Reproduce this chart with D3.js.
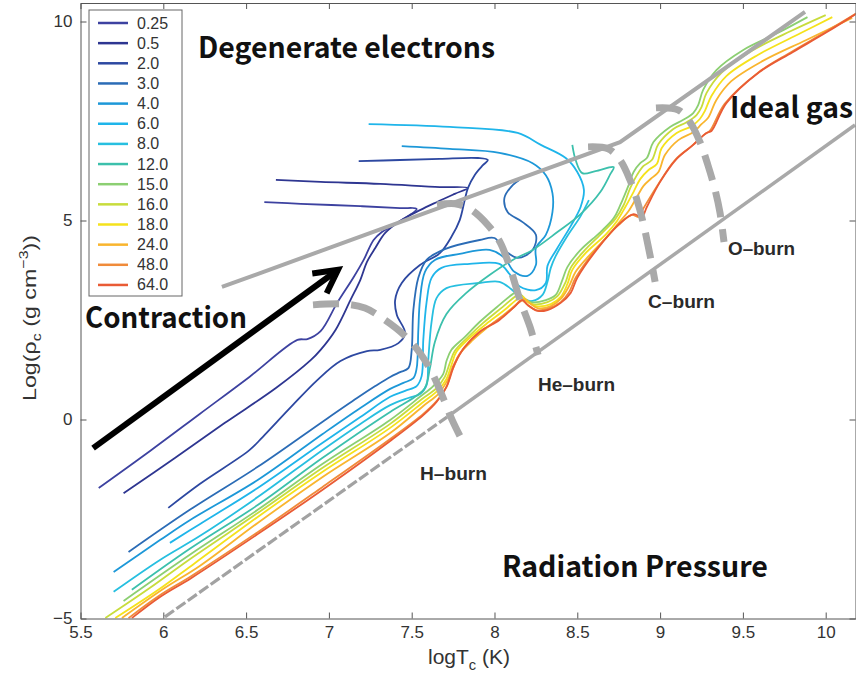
<!DOCTYPE html>
<html>
<head>
<meta charset="utf-8">
<script src="https://cdn.jsdelivr.net/npm/d3@7"></script>
<style>
  body { margin: 0; background: #fff; }
  svg { display: block; }
</style>
</head>
<body>
<div id="chart"></div>
<script>
"use strict";

// Stellar masses shown in the legend (solar masses)
const masses = ["0.25", "0.5", "2.0", "3.0", "4.0", "6.0", "8.0", "12.0", "15.0", "16.0", "18.0", "24.0", "48.0", "64.0"];

// Central evolution tracks, each point is [log Tc, log rho_c]
const track025 = [[5.61,-1.72],[5.92,-0.79],[6.22,0.14],[6.52,1.07],[6.81,2.00],[6.87,2.02],[6.95,2.22],[7.05,2.93],[7.15,3.58],[7.21,4.01],[7.27,4.51],[7.32,4.71],[7.40,4.91],[7.53,5.29],[7.43,5.31],[7.19,5.36],[6.83,5.42],[6.61,5.46]];
const track05 = [[5.76,-1.85],[6.07,-0.97],[6.37,-0.09],[6.68,0.79],[6.89,1.49],[6.95,1.75],[7.04,2.25],[7.13,3.00],[7.19,3.51],[7.23,3.96],[7.28,4.31],[7.34,4.69],[7.43,4.99],[7.55,5.26],[7.65,5.46],[7.76,5.67],[7.84,5.82],[7.67,5.84],[7.31,5.92],[6.95,5.97],[6.68,6.02]];
const track2 = [[6.03,-2.22],[6.22,-1.62],[6.52,-0.77],[6.60,-0.44],[6.77,0.31],[6.93,0.99],[7.07,1.47],[7.23,1.72],[7.31,1.75],[7.42,1.92],[7.46,2.17],[7.41,2.63],[7.40,3.00],[7.44,3.43],[7.55,3.88],[7.67,4.18],[7.74,4.59],[7.79,5.01],[7.82,5.51],[7.84,5.82],[7.88,6.14],[7.93,6.39],[7.96,6.52],[7.90,6.57],[7.67,6.55],[7.43,6.52],[7.18,6.49]];
const track3 = [[5.79,-3.33],[6.16,-2.27],[6.57,-1.19],[6.96,-0.06],[7.17,0.54],[7.28,0.84],[7.37,1.07],[7.43,1.19],[7.48,1.29],[7.50,1.75],[7.51,2.75],[7.54,3.56],[7.59,4.01],[7.70,4.28],[7.91,4.51],[8.00,4.56],[8.06,4.26],[8.14,4.06],[8.23,4.26],[8.25,4.64],[8.17,4.96],[8.08,5.21],[8.06,5.57],[8.11,5.89],[8.15,6.02]];
const track4 = [[5.70,-3.83],[5.98,-3.03],[6.16,-2.53],[6.57,-1.52],[6.96,-0.37],[7.19,0.29],[7.37,0.77],[7.45,0.92],[7.51,1.04],[7.53,1.29],[7.54,2.25],[7.55,3.00],[7.58,3.71],[7.64,4.01],[7.79,4.16],[7.97,4.26],[8.06,4.06],[8.12,3.71],[8.20,3.61],[8.25,3.88],[8.25,4.31],[8.31,4.64],[8.35,5.21],[8.35,5.69],[8.31,6.14],[8.23,6.44],[8.03,6.70],[7.73,6.80],[7.44,6.87]];
const track6 = [[6.04,-3.10],[6.22,-2.63],[6.57,-1.72],[6.96,-0.59],[7.19,0.06],[7.37,0.57],[7.46,0.72],[7.53,0.84],[7.56,1.09],[7.57,2.00],[7.59,2.95],[7.62,3.56],[7.68,3.81],[7.85,3.91],[8.03,3.91],[8.09,3.66],[8.15,3.35],[8.25,3.25],[8.31,3.43],[8.32,3.86],[8.38,4.31],[8.46,4.86],[8.52,5.34],[8.54,5.77],[8.50,6.22],[8.43,6.57],[8.28,6.90],[8.14,7.20],[7.73,7.35],[7.24,7.42]];
const track8 = [[5.70,-4.33],[5.98,-3.53],[6.22,-2.93],[6.57,-1.95],[6.96,-0.77],[7.19,-0.11],[7.37,0.36],[7.48,0.54],[7.55,0.64],[7.59,0.87],[7.60,1.49],[7.62,2.45],[7.65,3.05],[7.71,3.30],[7.91,3.43],[8.03,3.46],[8.10,3.28],[8.16,3.05],[8.23,2.98],[8.29,3.13],[8.32,3.46],[8.34,3.81],[8.37,4.11],[8.44,4.61],[8.52,5.11],[8.57,5.51]];
const track12 = [[5.81,-4.28],[6.16,-3.25],[6.57,-2.15],[6.96,-0.97],[7.37,0.19],[7.52,0.57],[7.58,0.79],[7.61,1.29],[7.64,1.95],[7.71,2.65],[7.83,3.18],[7.97,3.63],[8.11,4.01],[8.23,4.26],[8.38,4.71],[8.52,5.16],[8.64,5.72],[8.70,6.17],[8.72,6.34],[8.61,6.24],[8.53,6.19],[8.49,6.52],[8.47,6.90]];
const track15 = [[5.76,-4.56],[6.16,-3.40],[6.57,-2.27],[6.96,-1.12],[7.37,-0.01],[7.55,0.57],[7.63,0.84],[7.69,1.14],[7.71,1.47],[7.74,1.75],[7.82,2.07],[7.91,2.45],[8.03,2.88],[8.11,3.15],[8.14,3.20],[8.17,3.08],[8.22,2.95],[8.31,3.00],[8.37,3.13],[8.41,3.51],[8.44,3.83],[8.52,4.26],[8.64,4.71],[8.72,5.06],[8.76,5.39],[8.81,5.89],[8.84,6.22],[8.88,6.44],[8.92,6.57],[8.96,6.97],[9.06,7.35],[9.14,7.53],[9.20,7.70],[9.23,7.90],[9.26,8.28],[9.34,8.78],[9.50,9.28],[9.71,9.71],[9.89,10.11]];
const track16 = [[5.65,-4.99],[5.92,-4.23],[6.16,-3.51],[6.57,-2.35],[6.96,-1.22],[7.37,-0.11],[7.56,0.51],[7.65,0.79],[7.70,1.07],[7.73,1.42],[7.76,1.72],[7.84,2.07],[7.93,2.42],[8.05,2.83],[8.13,3.10],[8.16,3.13],[8.19,3.00],[8.23,2.90],[8.32,2.95],[8.38,3.10],[8.43,3.46],[8.46,3.81],[8.54,4.23],[8.65,4.69],[8.73,5.04],[8.78,5.39],[8.82,5.82],[8.86,6.14],[8.90,6.37],[8.95,6.52],[8.99,6.92],[9.08,7.30],[9.16,7.47],[9.22,7.65],[9.25,7.85],[9.28,8.20],[9.37,8.71],[9.54,9.23],[9.79,9.76],[10.00,10.16]];
const track18 = [[5.71,-4.99],[5.97,-4.28],[6.19,-3.61],[6.57,-2.45],[6.96,-1.32],[7.37,-0.21],[7.57,0.44],[7.66,0.74],[7.71,1.02],[7.74,1.37],[7.77,1.70],[7.85,2.05],[7.95,2.40],[8.06,2.75],[8.14,3.03],[8.17,3.08],[8.20,2.95],[8.25,2.85],[8.34,2.90],[8.40,3.08],[8.44,3.40],[8.47,3.76],[8.55,4.18],[8.67,4.64],[8.74,4.99],[8.79,5.34],[8.84,5.72],[8.88,6.04],[8.93,6.27],[8.98,6.42],[9.01,6.82],[9.10,7.20],[9.19,7.37],[9.24,7.55],[9.27,7.75],[9.31,8.13],[9.40,8.63],[9.59,9.16],[9.85,9.71],[10.04,10.11]];
const track24 = [[5.75,-4.99],[6.01,-4.23],[6.22,-3.68],[6.57,-2.60],[6.96,-1.45],[7.37,-0.34],[7.57,0.34],[7.66,0.64],[7.71,0.94],[7.75,1.29],[7.79,1.65],[7.87,2.00],[7.96,2.32],[8.07,2.68],[8.15,2.95],[8.18,3.03],[8.22,2.90],[8.26,2.80],[8.34,2.85],[8.40,3.03],[8.45,3.35],[8.49,3.71],[8.57,4.11],[8.68,4.59],[8.75,4.94],[8.81,5.24],[8.86,5.59],[8.90,5.87],[8.95,6.07],[8.99,6.22],[9.03,6.65],[9.11,7.02],[9.20,7.22],[9.25,7.42],[9.29,7.58],[9.34,8.03],[9.43,8.50],[9.62,9.01],[9.88,9.53],[10.16,10.09]];
const track48 = [[5.79,-4.99],[5.97,-4.44],[6.17,-3.93],[6.57,-2.83],[6.96,-1.70],[7.37,-0.49],[7.57,0.14],[7.65,0.46],[7.71,0.82],[7.75,1.34],[7.81,1.77],[7.90,2.17],[8.02,2.50],[8.12,2.83],[8.16,3.00],[8.20,2.88],[8.25,2.75],[8.32,2.78],[8.40,2.95],[8.45,3.20],[8.49,3.56],[8.61,4.26],[8.75,4.89],[8.83,5.14],[8.87,5.09],[8.90,5.31],[8.99,5.92],[9.09,6.52],[9.19,6.87],[9.27,7.17],[9.30,7.25],[9.39,7.93],[9.59,8.71],[9.79,9.23],[10.00,9.74],[10.22,10.29]];
const track64 = [[5.81,-4.99],[5.98,-4.46],[6.17,-3.98],[6.57,-2.88],[6.96,-1.77],[7.37,-0.54],[7.57,0.11],[7.65,0.44],[7.71,0.82],[7.76,1.39],[7.82,1.82],[7.91,2.20],[8.03,2.50],[8.12,2.83],[8.17,3.00],[8.20,2.88],[8.26,2.73],[8.32,2.75],[8.40,2.93],[8.46,3.18],[8.50,3.56],[8.62,4.28],[8.76,4.94],[8.84,5.16],[8.89,5.09],[8.92,5.34],[9.00,5.97],[9.10,6.55],[9.20,6.90],[9.28,7.20],[9.31,7.25],[9.40,7.95],[9.60,8.73],[9.80,9.23],[10.01,9.74],[10.22,10.29]];

// Regime boundaries and burning lines, [log Tc, log rho_c]
const degenerateLine = [[6.354,3.33],[8.758,6.97],[9.875,10.24]];
const radiationLineLow = [[6.010,-4.96],[7.713,0.06]];
const radiationLine = [[7.713,0.06],[10.177,7.40]];
const hBurn = [[6.904,2.88],[7.097,2.90],[7.218,2.80],[7.339,2.50],[7.460,2.10],[7.550,1.67],[7.629,1.12],[7.695,0.49],[7.744,-0.01],[7.804,-0.52]];
const heBurn = [[7.653,5.39],[7.762,5.42],[7.852,5.29],[7.955,4.91],[8.033,4.46],[8.094,3.81],[8.154,3.00],[8.215,2.32],[8.263,1.62]];
const cBurn = [[8.565,6.85],[8.686,6.80],[8.758,6.52],[8.818,6.02],[8.861,5.51],[8.897,4.96],[8.927,4.38],[8.951,3.88],[8.970,3.46]];
const oBurn = [[8.975,7.83],[9.108,7.78],[9.181,7.47],[9.241,6.97],[9.289,6.39],[9.332,5.77],[9.362,5.19],[9.386,4.46]];
const contractionArrow = [[5.576,-0.72],[7.055,3.76]];

const xTicks = [5.5, 6, 6.5, 7, 7.5, 8, 8.5, 9, 9.5, 10];
const yTicks = [-5, 0, 5, 10];

// Line colours, one per mass (jet-like ramp)
const colors = ["#3d42a0", "#2e3691", "#2d48a1", "#2b6cb6", "#1d98d8", "#1fb5ea", "#27bfe0", "#3cc0ac", "#8ccf72", "#c8dc3c", "#f5e21c", "#f9b52e", "#f08b3a", "#e95b35"];

const tracks = [track025, track05, track2, track3, track4, track6, track8, track12, track15, track16, track18, track24, track48, track64]
    .map((pts, i) => ({ mass: masses[i], color: colors[i], pts: pts }));

const graphInfo = { width: 856, height: 679, left: 80.5, right: 855.5, top: 3, bottom: 618.5 };

const svg = d3.select("#chart").append("svg")
    .attr("width", graphInfo.width)
    .attr("height", graphInfo.height);

const x = d3.scaleLinear().domain([5.5, 10.18]).range([graphInfo.left, graphInfo.right]);
const y = d3.scaleLinear().domain([-5, 10.465]).range([graphInfo.bottom, graphInfo.top]);

const line = d3.line()
    .curve(d3.curveCatmullRom.alpha(0.5))
    .x(d => x(d[0]))
    .y(d => y(d[1]));
const straight = d3.line().x(d => x(d[0])).y(d => y(d[1]));

svg.append("clipPath").attr("id", "plotClip")
    .append("rect")
    .attr("x", graphInfo.left).attr("y", graphInfo.top)
    .attr("width", graphInfo.right - graphInfo.left)
    .attr("height", graphInfo.bottom - graphInfo.top);

const plot = svg.append("g").attr("clip-path", "url(#plotClip)");

// Tracks
plot.append("g")
    .selectAll("path")
    .data(tracks)
    .join("path")
    .attr("fill", "none")
    .attr("stroke", d => d.color)
    .attr("stroke-width", 1.8)
    .attr("stroke-linejoin", "round")
    .attr("d", d => line(d.pts));

// Grey boundaries
const grey = "#a9a9a9";
plot.append("path").attr("d", straight(degenerateLine))
    .attr("fill", "none").attr("stroke", grey).attr("stroke-width", 4);
plot.append("path").attr("d", straight(radiationLine))
    .attr("fill", "none").attr("stroke", grey).attr("stroke-width", 3.5);
plot.append("path").attr("d", straight(radiationLineLow))
    .attr("fill", "none").attr("stroke", "#a2a2a2").attr("stroke-width", 3.2)
    .attr("stroke-dasharray", "11,3");

[hBurn, heBurn, cBurn, oBurn].forEach(b => {
    plot.append("path").attr("d", line(b))
        .attr("fill", "none")
        .attr("stroke", grey)
        .attr("stroke-width", 7)
        .attr("stroke-dasharray", "26,12");
});

// Contraction arrow
const a0 = [x(contractionArrow[0][0]), y(contractionArrow[0][1])];
const a1 = [x(contractionArrow[1][0]), y(contractionArrow[1][1])];
const ang = Math.atan2(a1[1] - a0[1], a1[0] - a0[0]);
const armLen = 26, armAng = 28 * Math.PI / 180;
svg.append("line")
    .attr("x1", a0[0]).attr("y1", a0[1])
    .attr("x2", a1[0] - 2 * Math.cos(ang)).attr("y2", a1[1] - 2 * Math.sin(ang))
    .attr("stroke", "#000").attr("stroke-width", 6);
svg.append("path")
    .attr("d", `M${a1[0] - armLen * Math.cos(ang - armAng)},${a1[1] - armLen * Math.sin(ang - armAng)}`
        + `L${a1[0]},${a1[1]}`
        + `L${a1[0] - armLen * Math.cos(ang + armAng)},${a1[1] - armLen * Math.sin(ang + armAng)}`)
    .attr("fill", "none").attr("stroke", "#000").attr("stroke-width", 6)
    .attr("stroke-linejoin", "miter");

// Axes (MATLAB box style, inward ticks)
const axisFont = "'Liberation Sans', Arial, sans-serif";
function styleAxis(g) {
    g.selectAll(".domain").attr("stroke", "#555");
    g.selectAll(".tick line").attr("stroke", "#555");
    g.selectAll("text").attr("fill", "#333").attr("font-size", 17).attr("font-family", axisFont);
}
svg.append("g")
    .attr("transform", `translate(0,${graphInfo.bottom})`)
    .call(d3.axisBottom(x).tickValues(xTicks).tickSize(-6).tickSizeOuter(0).tickPadding(7).tickFormat(d => String(d)))
    .call(styleAxis);
svg.append("g")
    .attr("transform", `translate(0,${graphInfo.top})`)
    .call(d3.axisTop(x).tickValues(xTicks).tickSize(-6).tickSizeOuter(0).tickFormat(""))
    .call(styleAxis);
svg.append("g")
    .attr("transform", `translate(${graphInfo.left},0)`)
    .call(d3.axisLeft(y).tickValues(yTicks).tickSize(-6).tickSizeOuter(0).tickPadding(8).tickFormat(d3.format("d")))
    .call(styleAxis);
svg.append("g")
    .attr("transform", `translate(${graphInfo.right},0)`)
    .call(d3.axisRight(y).tickValues(yTicks).tickSize(-6).tickSizeOuter(0).tickFormat(""))
    .call(styleAxis);

// Axis titles
const xl = svg.append("text")
    .attr("x", 469).attr("y", 664)
    .attr("text-anchor", "middle")
    .attr("font-family", axisFont).attr("font-size", 20).attr("fill", "#333")
    .attr("textLength", 82).attr("lengthAdjust", "spacingAndGlyphs");
xl.append("tspan").text("logT");
xl.append("tspan").attr("dy", 6).attr("font-size", 14).text("c");
xl.append("tspan").attr("dy", -6).text(" (K)");

const yl = svg.append("text")
    .attr("transform", "translate(36,318) rotate(-90)")
    .attr("text-anchor", "middle")
    .attr("font-family", axisFont).attr("font-size", 19).attr("fill", "#333")
    .attr("textLength", 166).attr("lengthAdjust", "spacingAndGlyphs");
yl.append("tspan").text("Log(ρ");
yl.append("tspan").attr("dy", 5).attr("font-size", 13).text("c");
yl.append("tspan").attr("dy", -5).text(" (g cm");
yl.append("tspan").attr("dy", -8).attr("font-size", 13).text("−3");
yl.append("tspan").attr("dy", 8).text("))");

// Region labels
const bigFont = "'Noto Sans CJK JP', 'Noto Sans', sans-serif";
const regionLabels = [
    { text: "Degenerate electrons", t: 6.210, r: 9.083, len: 297 },
    { text: "Contraction", t: 5.527, r: 2.299, len: 162 },
    { text: "Ideal gas", t: 9.422, r: 7.575, len: 123 },
    { text: "Radiation Pressure", t: 8.045, r: -3.957, len: 266 }
];
svg.append("g").selectAll("text")
    .data(regionLabels)
    .join("text")
    .attr("x", d => x(d.t)).attr("y", d => y(d.r))
    .attr("font-family", bigFont).attr("font-weight", "bold").attr("font-size", 29)
    .attr("fill", "#111")
    .attr("textLength", d => d.len).attr("lengthAdjust", "spacingAndGlyphs")
    .text(d => d.text);

const burnLabels = [
    { text: "H–burn", t: 7.550, r: -1.520, len: 67 },
    { text: "He–burn", t: 8.263, r: 0.716, len: 77 },
    { text: "C–burn", t: 8.927, r: 2.801, len: 67 },
    { text: "O–burn", t: 9.410, r: 4.133, len: 67 }
];
svg.append("g").selectAll("text")
    .data(burnLabels)
    .join("text")
    .attr("x", d => x(d.t)).attr("y", d => y(d.r))
    .attr("font-family", axisFont).attr("font-weight", "bold").attr("font-size", 18)
    .attr("fill", "#2a2a2a")
    .attr("textLength", d => d.len).attr("lengthAdjust", "spacingAndGlyphs")
    .text(d => d.text);

// Legend
const legend = svg.append("g");
legend.append("rect")
    .attr("x", 89).attr("y", 10).attr("width", 93).attr("height", 286)
    .attr("fill", "#fff").attr("stroke", "#666").attr("stroke-width", 1);
const item = legend.selectAll("g.item")
    .data(tracks)
    .join("g")
    .attr("class", "item")
    .attr("transform", (d, i) => `translate(0,${23 + i * 20.15})`);
item.append("line")
    .attr("x1", 98).attr("x2", 128)
    .attr("stroke", d => d.color).attr("stroke-width", 2.5);
item.append("text")
    .attr("x", 137).attr("y", 5.5)
    .attr("font-family", axisFont).attr("font-size", 16).attr("fill", "#333")
    .text(d => d.mass);
</script>
</body>
</html>
